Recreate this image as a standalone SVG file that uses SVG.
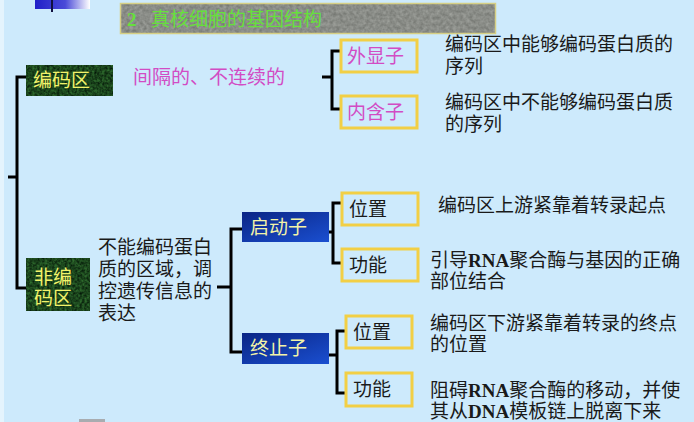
<svg xmlns="http://www.w3.org/2000/svg" width="694" height="422" viewBox="0 0 694 422">
<style>
.t{font-family:"Noto Sans CJK SC","Noto Sans",sans-serif;font-size:19px;fill:#1a1a1a}
.pk{fill:#d24cc4}
.yl{fill:#f2f26a}
.by{fill:#f3f3a8}
.lat{font-family:"Liberation Serif",serif;font-weight:bold}
.ybox{fill:none;stroke:#f2cf45;stroke-width:3}
.con{fill:none;stroke:#000;stroke-width:3}
</style>
<defs>
<linearGradient id="blue" x1="0" y1="0" x2="1" y2="1">
<stop offset="0" stop-color="#0a2585"/><stop offset="1" stop-color="#1a4fd0"/>
</linearGradient>
<linearGradient id="icon" x1="0" y1="0" x2="1" y2="0">
<stop offset="0" stop-color="#2020c8"/><stop offset="0.55" stop-color="#4a4ad8"/><stop offset="1" stop-color="#ffffff"/>
</linearGradient>
<filter id="green" x="0" y="0" width="1" height="1" color-interpolation-filters="sRGB">
<feTurbulence type="fractalNoise" baseFrequency="0.4" numOctaves="2" seed="3" result="n"/>
<feColorMatrix in="n" type="matrix" values="0.25 0 0 0 -0.02  0.5 0 0 0 0.02  0.22 0 0 0 0.0  0 0 0 0 1" result="c"/>
<feComposite in="c" in2="SourceGraphic" operator="in"/>
</filter>
<filter id="gray" x="0" y="0" width="1" height="1" color-interpolation-filters="sRGB">
<feTurbulence type="fractalNoise" baseFrequency="0.3" numOctaves="2" seed="7" result="n"/>
<feColorMatrix in="n" type="matrix" values="0.22 0 0 0 0.43  0.22 0 0 0 0.44  0.22 0 0 0 0.42  0 0 0 0 1" result="c"/>
<feComposite in="c" in2="SourceGraphic" operator="in"/>
</filter>
</defs>
<rect width="694" height="422" fill="#cdeafc"/>
<rect x="0" y="0" width="4" height="422" fill="#e4f4fd"/>
<g id="icon-deco">
<rect x="35" y="0" width="55" height="9" fill="url(#icon)"/>
<rect x="51" y="0" width="2" height="12" fill="#101040"/>
<rect x="79" y="419" width="26" height="3" fill="#a8acb0"/>
</g>
<g id="title">
<rect x="120" y="3" width="376" height="31" fill="#8a8e88" filter="url(#gray)"/>
<rect x="120.5" y="3.5" width="375" height="30" fill="none" stroke="#d6cf84" stroke-width="1.5"/>
<text x="127" y="26" font-family="Liberation Serif,'Noto Sans CJK SC',serif" font-weight="bold" font-size="19" fill="#66e03c">2</text>
<text x="151" y="26" class="t" style="fill:#66e03c">真核细胞的基因结构</text>
</g>
<g id="connectors">
<path class="con" d="M26,77 H17 V288 H27 M8,177 H17"/>
<path class="con" d="M322,77 H332 M340,51 H332 V109 H340"/>
<path class="con" d="M217,287 H231 M244,229 H231 V352 H244"/>
<path class="con" d="M329,232 H333 M341,203 H333 V263 H341"/>
<path class="con" d="M329,355 H337 M345,331 H337 V393 H345"/>
</g>
<g id="coding">
<rect x="26" y="65" width="87" height="31" fill="#1f4a22" filter="url(#green)"/>
<text x="33" y="87" class="t yl">编码区</text>
</g>
<g id="coding-desc"><text x="133" y="84" class="t pk">间隔的、不连续的</text></g>
<g id="exon">
<rect x="341" y="40" width="76" height="32" class="ybox"/>
<text x="347" y="63" class="t pk">外显子</text>
</g>
<g id="exon-desc"><text x="445" y="51" class="t">编码区中能够编码蛋白质的</text><text x="445" y="73" class="t">序列</text></g>
<g id="intron">
<rect x="341" y="96" width="76" height="32" class="ybox"/>
<text x="347" y="119" class="t pk">内含子</text>
</g>
<g id="intron-desc"><text x="445" y="109" class="t">编码区中不能够编码蛋白质</text><text x="445" y="131" class="t">的序列</text></g>
<g id="noncoding">
<rect x="26" y="258" width="64" height="53" fill="#1f4a22" filter="url(#green)"/>
<text x="34" y="284" class="t yl">非编</text>
<text x="34" y="305" class="t yl">码区</text>
</g>
<g id="noncoding-desc">
<text x="98" y="254" class="t">不能编码蛋白</text>
<text x="98" y="276" class="t">质的区域，调</text>
<text x="98" y="298" class="t">控遗传信息的</text>
<text x="98" y="320" class="t">表达</text>
</g>
<g id="promoter">
<rect x="242" y="212" width="87" height="30" fill="url(#blue)"/>
<text x="250" y="234" class="t by">启动子</text>
</g>
<g id="promoter-pos">
<rect x="342" y="193" width="76" height="32" class="ybox"/>
<text x="349" y="216" class="t">位置</text>
<text x="438" y="212" class="t">编码区上游紧靠着转录起点</text>
</g>
<g id="promoter-func">
<rect x="342" y="249" width="76" height="32" class="ybox"/>
<text x="349" y="272" class="t">功能</text>
<text x="430" y="267" class="t">引导<tspan class="lat">RNA</tspan>聚合酶与基因的正确</text>
<text x="430" y="288" class="t">部位结合</text>
</g>
<g id="terminator">
<rect x="242" y="333" width="87" height="31" fill="url(#blue)"/>
<text x="250" y="355" class="t by">终止子</text>
</g>
<g id="terminator-pos">
<rect x="346" y="316" width="66" height="32" class="ybox"/>
<text x="353" y="339" class="t">位置</text>
<text x="430" y="330" class="t">编码区下游紧靠着转录的终点</text>
<text x="430" y="351" class="t">的位置</text>
</g>
<g id="terminator-func">
<rect x="346" y="373" width="66" height="33" class="ybox"/>
<text x="353" y="396" class="t">功能</text>
<text x="430" y="397" class="t">阻碍<tspan class="lat">RNA</tspan>聚合酶的移动，并使</text>
<text x="430" y="418" class="t">其从<tspan class="lat">DNA</tspan>模板链上脱离下来</text>
</g>
</svg>
